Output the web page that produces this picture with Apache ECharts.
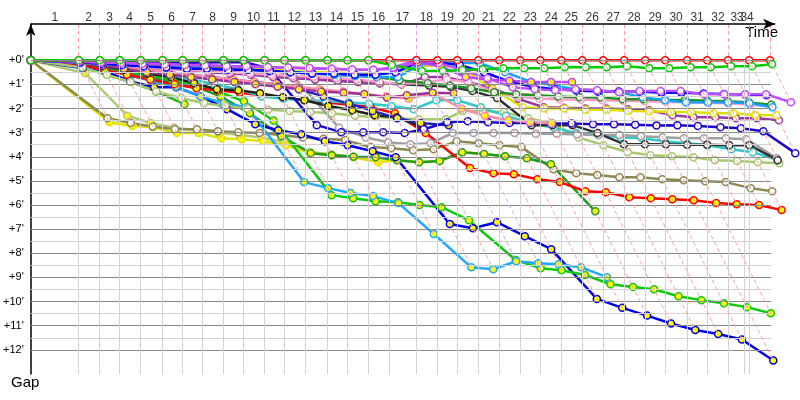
<!DOCTYPE html>
<html><head><meta charset="utf-8">
<script src="https://cdn.jsdelivr.net/npm/echarts@6/dist/echarts.min.js"></script>
<style>html,body{margin:0;padding:0;background:#fff}#c{width:800px;height:400px}</style>
</head><body><div id="c"></div>
<script>
// leader's cumulative time (minutes) at the end of each lap, lap 0 = start
const lapTimes = [0,4.0,5.75,7.42,9.17,11.0,12.67,14.33,16.08,17.75,19.5,21.17,22.92,24.75,26.42,28.17,29.92,32.17,33.92,35.58,37.33,39.08,40.83,42.5,44.25,46.0,47.75,49.5,51.25,52.92,54.75,56.42,58.17,59.92,61.67];
const lapLabels = ['1','2','3','4','5','6','7','8','9','10','11','12','13','14','15','16','17','18','19','20','21','22','23','24','25','26','27','28','29','30','31','32','33','34'];
const labelTimes = [2.0,4.83,6.58,8.25,10.0,11.75,13.5,15.17,16.92,18.58,20.25,22.0,23.75,25.5,27.25,29.0,31.0,33.0,34.75,36.5,38.17,39.92,41.67,43.42,45.08,46.83,48.58,50.33,52.08,53.83,55.58,57.33,58.92,59.75];
const gridTimes = [4.0,5.75,7.42,9.17,11.0,12.67,14.33,16.08,17.75,19.5,21.17,22.92,24.75,26.42,28.17,29.92,32.17,33.92,35.58,37.33,39.08,40.83,42.5,44.25,46.0,47.75,49.5,51.25,52.92,54.75,56.42,58.17,59.5,59.92];
const violetLaps = [17,18];
const yTickValues = [0,1,2,3,4,5,6,7,8,9,10,11,12];
const yMinorValues = [0.5,1.5,2.5,3.5,4.5,5.5,6.5,7.5,8.5,9.5,10.5,11.5];
const gridEndTime = 61.75;
const axisEndTime = 62.1;
const lapLabelGap = -1.77;

// gap (minutes) behind the leader at the end of each lap, from lap 0
const gRed = [0,0,0,0,0,0,0,0,0,0,0,0,0,0,0,0,0,0,0,0,0,0,0,0,0,0,0,0,0,0,0,0,0,0,0];
const gGreen = [0,0,0,0,0,0,0,0,0,0,0,0,0,0,0,0,0.2,0.45,0.45,0.41,0.37,0.33,0.33,0.33,0.29,0.29,0.29,0.25,0.33,0.33,0.29,0.29,0.25,0.25,0.17];
const gViolet = [0,0.05,0.1,0.12,0.15,0.18,0.2,0.22,0.25,0.25,0.28,0.3,0.32,0.35,0.38,0.4,0.3,0,0.12,0.4,0.75,1.12,1.2,1.24,1.2,1.24,1.33,1.28,1.28,1.28,1.41,1.41,1.41,1.41,1.74];
const gBlue = [0,0.1,0.15,0.2,0.25,0.3,0.35,0.35,0.4,0.4,0.45,0.5,0.55,0.55,0.6,0.6,0.5,0.1,0.1,0.2,0.5,0.9,1.1,1.2,1.25,1.3,1.3,1.3,1.35,1.35,1.38,1.4,1.42,1.45];
const gSky = [0,0.1,0.15,0.2,0.25,0.3,0.3,0.35,0.4,0.4,0.45,0.5,0.55,0.6,0.65,0.7,0.7,0.2,0.08,0.12,0.12,0.5,0.9,1.04,1.2,1.24,1.33,1.53,1.66,1.74,1.74,1.74,1.78,1.95];
const gDkGreen = [0,0.05,0.1,0.12,0.15,0.2,0.25,0.3,0.35,0.4,0.45,0.5,0.55,0.6,0.65,0.7,0.83,0.95,1.05,1.16,1.33,1.41,1.45,1.5,1.53,1.54,1.62,1.62,1.65,1.65,1.68,1.7,1.75,1.85];
const gPink = [0,0.1,0.15,0.2,0.3,0.35,0.4,0.45,0.5,0.55,0.6,0.65,0.7,0.75,0.8,0.9,1.0,0.9,0.8,0.9,1.3,1.5,1.6,1.62,1.64,1.66,1.68,1.7,1.72,1.74,1.76,1.78,1.85,1.9];
const gYellow = [0,0.1,0.15,0.2,0.2,0.25,0.3,0.3,0.35,0.35,0.4,0.45,0.5,0.5,0.55,0.6,0.5,0.25,0.2,0.3,1.2,1.95,2.0,2.0,2.05,2.05,2.1,2.11,2.15,2.15,2.2,2.2,2.28,2.28];
const gPurple = [0,0.1,0.15,0.2,0.3,0.35,0.4,0.5,0.55,0.6,0.7,0.75,0.8,0.85,0.9,0.95,1.0,0.7,0.7,0.9,1.15,1.6,1.95,1.97,2.0,2.0,2.03,2.07,2.28,2.36,2.36,2.4,2.4,2.49];
const gNavy = [0,0.05,0.08,0.1,0.1,0.12,0.12,0.1,0.08,0.08,0.33,2.69,2.98,2.98,2.98,3.02,2.86,2.57,2.53,2.57,2.6,2.6,2.62,2.62,2.65,2.65,2.67,2.7,2.69,2.73,2.78,2.82,2.94,3.85];
const gGray = [0,0.1,0.12,0.15,0.2,0.2,0.25,0.3,0.3,0.35,0.4,0.6,2.8,3.2,3.4,3.48,3.44,3.02,3.02,3.02,3.02,3.05,3.05,3.08,3.1,3.1,3.15,3.19,3.23,3.23,3.23,3.27,4.06];
const gBlack = [0,0.1,0.15,0.2,0.25,0.3,0.35,0.45,0.5,0.55,0.6,0.7,0.8,0.85,0.9,0.95,1.0,1.05,1.1,1.28,1.57,2.69,2.69,2.69,3.02,3.48,3.48,3.48,3.5,3.5,3.52,3.52,4.14];
const gCyan = [0,0.1,0.2,0.35,0.5,0.65,0.8,1.0,1.2,1.5,1.6,1.65,1.7,1.75,1.8,1.9,2.03,1.66,1.66,1.95,2.3,2.6,2.8,3.02,3.1,3.19,3.23,3.36,3.44,3.52,3.69,3.81,4.14];
const gLime = [0,0.3,0.6,0.9,1.3,1.57,1.78,1.9,2.0,2.05,2.1,2.15,2.2,2.3,2.35,2.4,2.45,2.45,2.1,2.1,2.15,2.4,2.6,3.2,3.52,3.8,3.94,3.98,4.02,4.14,4.18,4.23,4.27];
const gOlive = [0,2.4,2.6,2.75,2.86,2.86,2.94,2.98,3.02,3.1,3.2,3.25,3.31,3.6,3.65,3.73,3.69,3.36,3.44,3.52,3.6,4.52,4.68,4.76,4.85,4.85,4.93,4.97,5.01,5.05,5.3,5.43];
const gRed2 = [0,0.2,0.4,0.6,0.8,1.0,1.16,1.25,1.35,1.45,1.55,1.65,1.75,1.85,1.95,2.2,3.02,4.47,4.68,4.72,4.93,5.05,5.43,5.47,5.68,5.72,5.76,5.8,5.92,5.97,6.0,6.21];
const gGreen2 = [0,0.15,0.3,0.45,0.6,0.8,1.0,1.3,1.7,2.5,5.59,5.72,5.84,5.88,6.0,6.09,6.63,8.28,8.62,8.7,8.9,9.28,9.4,9.49,9.78,9.94,10.07,10.23,10.48];
const gBlue2 = [0,0.33,0.46,0.87,1.12,1.12,1.49,2.03,2.65,2.9,3.07,3.36,3.52,3.77,4.02,6.79,6.96,6.71,7.29,7.83,9.89,10.26,10.58,10.91,11.18,11.34,11.57,12.44];
const gSky2 = [0,0.2,0.4,0.6,0.85,1.1,1.5,1.78,1.95,5.05,5.3,5.5,5.63,5.92,7.2,8.58,8.66,8.33,8.41,8.45,8.58,8.99];
const gDkGreen2 = [0,0.2,0.35,0.5,0.7,0.9,1.1,1.5,2.2,3.15,3.85,3.94,4.0,4.02,4.14,4.23,4.18,3.81,3.89,3.98,4.06,4.31,6.26];
const gYellow2 = [0,2.57,2.73,2.78,3.02,3.02,3.23,3.27,3.36,3.52,3.85,3.94,4.02,4.23,4.14,4.23,4.18,3.81,3.89,3.98];
const gLime2 = [0,0.54,2.3,2.6,2.8,2.9,3.0,3.1,3.2,3.4,3.8,3.9,4.0];
const gViolet2 = [0,0.05,0.1,0.1,0.15,0.15,0.2,0.2,0.25,0.25,0.3,0.3,0.35,0.35,0.4,0.4,0.35,0.1,0.25,0.7,0.8,0.85,0.9,0.9,0.9];
const gPurple2 = [0,0.1,0.2,0.35,0.5,0.6,0.7,0.8,0.9,1.0,1.1,1.2,1.3,1.35,1.4,1.55,1.45,1.35,1.37];
const gPink2 = [0,0.1,0.2,0.3,0.4,0.5,0.6,0.7,0.8,0.9,1.0,1.1,1.2,1.3,1.4,1.5,1.6,1.37,2.0,2.3,2.49,2.57,2.61];
const gBlack2 = [0,0.1,0.25,0.4,0.55,0.7,0.95,1.2,1.24,1.37,1.53,1.66,1.9,2.07,2.28,2.36,2.78];
const gNavy2 = [0,0.1,0.2,0.3,0.4,0.5,0.6,0.7,0.8,0.9,1.0,1.2,1.5,1.8,2.1,2.4,2.6,2.69];
const gGreen3 = [0,0.3,0.6,0.9,1.3,1.82];

// drawing order and styles (hollow = white marker, else yellow marker)
const riders = [
  {gaps:gLime2, color:'#b0c878', hollow:false},
  {gaps:gYellow2, color:'#e0e000', hollow:false},
  {gaps:gOlive, color:'#8c8850', hollow:true},
  {gaps:gDkGreen2, color:'#209a20', hollow:false},
  {gaps:gGreen3, color:'#20b020', hollow:false},
  {gaps:gBlue2, color:'#0000e8', hollow:false},
  {gaps:gGreen2, color:'#10c810', hollow:false},
  {gaps:gSky2, color:'#20a8ff', hollow:false},
  {gaps:gRed2, color:'#ff0000', hollow:false},
  {gaps:gLime, color:'#a8c870', hollow:true},
  {gaps:gCyan, color:'#30c8c8', hollow:true},
  {gaps:gGray, color:'#a0a0a0', hollow:true},
  {gaps:gBlack, color:'#303030', hollow:true},
  {gaps:gBlack2, color:'#202020', hollow:false},
  {gaps:gNavy2, color:'#2020c0', hollow:false},
  {gaps:gNavy, color:'#1a08c8', hollow:true},
  {gaps:gPink2, color:'#ff88aa', hollow:false},
  {gaps:gPurple2, color:'#993399', hollow:false},
  {gaps:gPurple, color:'#9a3aa0', hollow:true},
  {gaps:gYellow, color:'#e0e000', hollow:true},
  {gaps:gPink, color:'#ff99cc', hollow:true},
  {gaps:gDkGreen, color:'#209020', hollow:true},
  {gaps:gSky, color:'#18a0ff', hollow:true},
  {gaps:gBlue, color:'#0000ff', hollow:true},
  {gaps:gViolet2, color:'#c040ff', hollow:false},
  {gaps:gViolet, color:'#c050ff', hollow:true},
  {gaps:gRed, color:'#ff0000', hollow:true},
  {gaps:gGreen, color:'#00cc00', hollow:true}
];

const chart = echarts.init(document.getElementById('c'), null, {renderer:'canvas'});
const yMin = -1.5, yMax = 13;
const pxPerMin = 12; // x scale: grid is 770 px wide

// deepest gap on each lap for the lap diagonals
const maxGap = lapTimes.map((t, n) => {
  let m = 0;
  riders.forEach(r => { if (n < r.gaps.length && r.gaps[n] > m) m = r.gaps[n]; });
  return m;
});

const gridLines = [];
yMinorValues.forEach(v => gridLines.push([{coord:[0,v], lineStyle:{color:'#d2d2d2', width:1, type:'solid'}},{coord:[gridEndTime,v]}]));
yTickValues.forEach(v => gridLines.push([{coord:[0,v], lineStyle:{color:'#8a8a8a', width:1, type:'solid'}},{coord:[gridEndTime,v]}]));
gridTimes.forEach(t => gridLines.push([{coord:[t,0], lineStyle:{color:'#d2d2d2', width:1, type:'solid'}},{coord:[t,yMax]}]));

const lapLines = [];
for (let n = 1; n < lapTimes.length; n++) {
  const col = violetLaps.includes(n) ? '#e0a0ff' : '#ff9f9f';
  const ls = {color:col, width:1, type:[4,3]};
  lapLines.push([{coord:[lapTimes[n], yMin], lineStyle:ls},{coord:[lapTimes[n], 0]}]);
  lapLines.push([{coord:[lapTimes[n], 0], lineStyle:ls},{coord:[lapTimes[n]+maxGap[n], maxGap[n]]}]);
}

function mk(data, z){
  return {type:'line', data:[], silent:true, z:z, animation:false,
    markLine:{silent:true, symbol:'none', animation:false, label:{show:false},
      lineStyle:{color:'#d2d2d2', type:'solid', width:1}, emphasis:{disabled:true}, data:data}};
}

const series = [ mk(gridLines, 1), mk(lapLines, 2) ];
riders.forEach(r => {
  series.push({
    type:'line', z:3, clip:false, animation:false, silent:true,
    data:r.gaps.map((g,i) => [lapTimes[i] + g, g]),
    symbol:'circle', symbolSize:7, showSymbol:true,
    lineStyle:{color:r.color, width:2.5},
    itemStyle:{color:r.hollow ? '#ffffff' : '#ffff00', borderColor:r.color, borderWidth:1.5}
  });
});
// top time axis line with arrow
series.push({type:'line', data:[], silent:true, z:5, animation:false,
  markLine:{silent:true, animation:false, symbol:['none','arrow'], symbolSize:[8,12], label:{show:false},
    lineStyle:{color:'#000', type:'solid', width:1.5},
    data:[[{coord:[0,yMin]},{coord:[axisEndTime,yMin]}]]}});
// lap numbers above the time axis
series.push({type:'scatter', clip:false, silent:true, z:6, animation:false,
  symbolSize:1, itemStyle:{color:'rgba(0,0,0,0)'},
  data:labelTimes.map((t,i) => ({value:[t, lapLabelGap], label:{formatter:lapLabels[i]}})),
  label:{show:true, position:'inside', color:'#000', fontSize:12, fontFamily:'Liberation Sans'}});

chart.setOption({
  animation:false,
  grid:{left:30, right:0, top:24, bottom:26, containLabel:false},
  xAxis:{type:'value', position:'top', min:0, max:770/pxPerMin,
    axisLine:{show:false, onZero:false}, axisTick:{show:false}, splitLine:{show:false}, axisLabel:{show:false}},
  yAxis:{type:'value', inverse:true, min:yMin, max:yMax, interval:0.5,
    axisLine:{show:true, onZero:false, lineStyle:{color:'#000', width:1.5}, symbol:['none','arrow'], symbolSize:[7,12]},
    axisTick:{show:false}, splitLine:{show:false},
    axisLabel:{fontSize:11, color:'#000', margin:7, fontFamily:'Liberation Sans',
      formatter:v => { const r = Math.round(v); return (Math.abs(v - r) < 1e-6 && yTickValues.includes(r)) ? '+' + r + "'" : ''; }}},
  graphic:[
    {type:'text', right:22, top:25, style:{text:'Time', font:'15px "Liberation Sans"', fill:'#000'}},
    {type:'text', left:11, top:375, style:{text:'Gap', font:'15px "Liberation Sans"', fill:'#000'}}
  ],
  series:series
});
</script>
</body></html>
